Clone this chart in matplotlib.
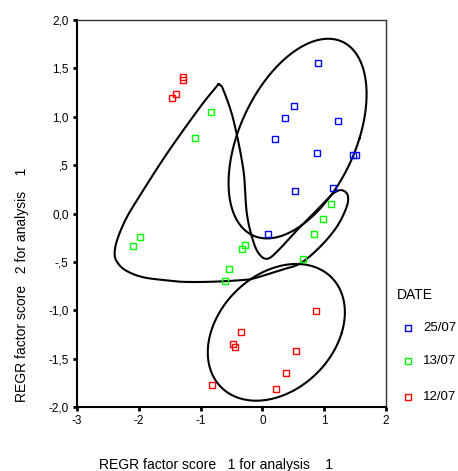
import numpy as np
import matplotlib.pyplot as plt
from matplotlib.lines import Line2D

plt.rcParams['font.family'] = ['Liberation Sans', 'DejaVu Sans']

# factor scores per date
blue_x = [0.895, 0.507, 0.362, 1.223, 0.200, 0.878, 1.465, 1.510, 1.142, 0.528, 0.092]
blue_y = [1.560, 1.113, 0.982, 0.955, 0.772, 0.627, 0.600, 0.600, 0.265, 0.231, -0.217]
green_x = [-0.829, -1.098, 1.105, 0.976, 0.835, 0.652, -1.981, -2.089, -0.274, -0.323, -0.543, -0.607]
green_y = [1.048, 0.782, 0.100, -0.058, -0.217, -0.473, -0.245, -0.338, -0.324, -0.366, -0.576, -0.693]
red_x = [-1.281, -1.281, -1.405, -1.470, 0.872, -0.339, -0.468, -0.441, 0.539, 0.378, 0.216, -0.813]
red_y = [1.406, 1.378, 1.234, 1.196, -1.010, -1.224, -1.344, -1.383, -1.421, -1.644, -1.817, -1.776]

labels = ['25/07', '13/07', '12/07']
colors = ['#0000ff', '#00ff00', '#ff0000']

x_ticks = [-3, -2, -1, 0, 1, 2]
y_ticks = [-2.0, -1.5, -1.0, -0.5, 0.0, 0.5, 1.0, 1.5, 2.0]
y_ticklabels = ['-2,0', '-1,5', '-1,0', '-,5', '0,0', ',5', '1,0', '1,5', '2,0']

# hand drawn group outlines (points on the curve, data units)
outline_blue = [(1.110, 1.810), (1.470, 1.689), (1.632, 1.516), (1.703, 1.275), (1.659, 0.999),
                (1.525, 0.724), (1.309, 0.448), (0.932, 0.0), (0.501, -0.190), (0.124, -0.242),
                (-0.145, -0.207), (-0.414, -0.069), (-0.522, 0.103), (-0.533, 0.378),
                (-0.494, 0.655), (-0.360, 0.931), (-0.090, 1.241), (0.233, 1.516), (0.662, 1.723)]
outline_green = [(-0.711, 1.337), (-0.745, 1.310), (-1.006, 1.102), (-1.544, 0.620),
                 (-2.029, 0.138), (-2.218, -0.069), (-2.352, -0.276), (-2.391, -0.414),
                 (-2.352, -0.500), (-2.218, -0.586), (-1.948, -0.656), (-1.572, -0.690),
                 (-1.249, -0.707), (-0.800, -0.705),
                 (-0.360, -0.690), (-0.145, -0.672), (0.286, -0.586), (0.609, -0.517),
                 (0.932, -0.345), (1.202, -0.139), (1.363, 0.068), (1.380, 0.189), (1.283, 0.241),
                 (1.147, 0.207), (0.932, 0.068), (0.609, -0.139), (0.286, -0.362), (0.097, -0.465),
                 (-0.037, -0.431), (-0.145, -0.294), (-0.252, 0.0), (-0.307, 0.448),
                 (-0.468, 0.965), (-0.630, 1.275), (-0.680, 1.325)]
outline_red = [(0.637, -0.527), (1.066, -0.638), (1.336, -0.948), (1.283, -1.224), (1.013, -1.569),
               (0.528, -1.810), (-0.118, -1.938), (-0.656, -1.810), (-0.882, -1.431),
               (-0.764, -1.121), (-0.441, -0.811), (-0.010, -0.604)]


def closed_spline(pts, n=30):
    # closed Catmull-Rom through the points
    p = np.array(pts)
    m = len(p)
    out = []
    t = np.linspace(0, 1, n, endpoint=False)[:, None]
    for i in range(m):
        p0, p1, p2, p3 = p[(i - 1) % m], p[i], p[(i + 1) % m], p[(i + 2) % m]
        seg = 0.5 * ((2 * p1) + (-p0 + p2) * t + (2 * p0 - 5 * p1 + 4 * p2 - p3) * t ** 2
                     + (-p0 + 3 * p1 - 3 * p2 + p3) * t ** 3)
        out.append(seg)
    out = np.vstack(out)
    return np.vstack([out, out[:1]])


def fit_ellipse(pts, n=400):
    # least squares conic through the points, sampled as a closed curve
    p = np.array(pts)
    x, y = p[:, 0], p[:, 1]
    M = np.column_stack([x * x, x * y, y * y, x, y, np.ones_like(x)])
    _, _, vt = np.linalg.svd(M)
    A, B, C, D, E, F = vt[-1]
    x0, y0 = np.linalg.solve([[2 * A, B], [B, 2 * C]], [-D, -E])
    F0 = A * x0 ** 2 + B * x0 * y0 + C * y0 ** 2 + D * x0 + E * y0 + F
    th = np.linspace(0, 2 * np.pi, n)
    ct, st = np.cos(th), np.sin(th)
    r = np.sqrt(-F0 / (A * ct ** 2 + B * ct * st + C * st ** 2))
    return np.column_stack([x0 + r * ct, y0 + r * st])


fig = plt.figure(figsize=(4.58, 4.71), dpi=100)
ax = fig.add_axes([77 / 458, 1 - 407 / 471, 309 / 458, 387 / 471])

for c in [fit_ellipse(outline_blue), closed_spline(outline_green), fit_ellipse(outline_red)]:
    ax.plot(c[:, 0], c[:, 1], color='black', lw=1.5, zorder=2)

for xs, ys, col in zip([blue_x, green_x, red_x], [blue_y, green_y, red_y], colors):
    ax.plot(xs, ys, ls='none', marker='s', ms=4, mfc='none', mec=col, mew=1.0, zorder=3)

ax.set_xlim(-3, 2)
ax.set_ylim(-2, 2)
ax.set_xticks(x_ticks)
ax.set_xticklabels([str(v) for v in x_ticks])
ax.set_yticks(y_ticks)
ax.set_yticklabels(y_ticklabels)
ax.tick_params(direction='out', length=3, width=2, labelsize=8.5, pad=3, color='black')
for side in ['left', 'bottom']:
    ax.spines[side].set_linewidth(1.5)
for side in ['top', 'right']:
    ax.spines[side].set_linewidth(1.0)
    ax.spines[side].set_color('#333333')

fig.text(216 / 458, 1 - 465 / 471, 'REGR factor score   1 for analysis    1',
         ha='center', va='center', fontsize=10)
fig.text(22 / 458, 1 - 285 / 471, 'REGR factor score   2 for analysis    1',
         ha='center', va='center', fontsize=10, rotation=90)

# legend drawn by hand to match the SPSS layout
fig.text(397 / 458, 1 - 295 / 471, 'DATE', ha='left', va='center', fontsize=10)
for lab, col, yy in zip(labels, colors, [327.7, 361, 397.3]):
    fig.add_artist(Line2D([408 / 458], [1 - yy / 471], transform=fig.transFigure, ls='none',
                          marker='s', ms=4, mfc='none', mec=col, mew=1.0))
    fig.text(423 / 458, 1 - yy / 471, lab, ha='left', va='center', fontsize=9.5)

fig.savefig('out.png', dpi=100)
